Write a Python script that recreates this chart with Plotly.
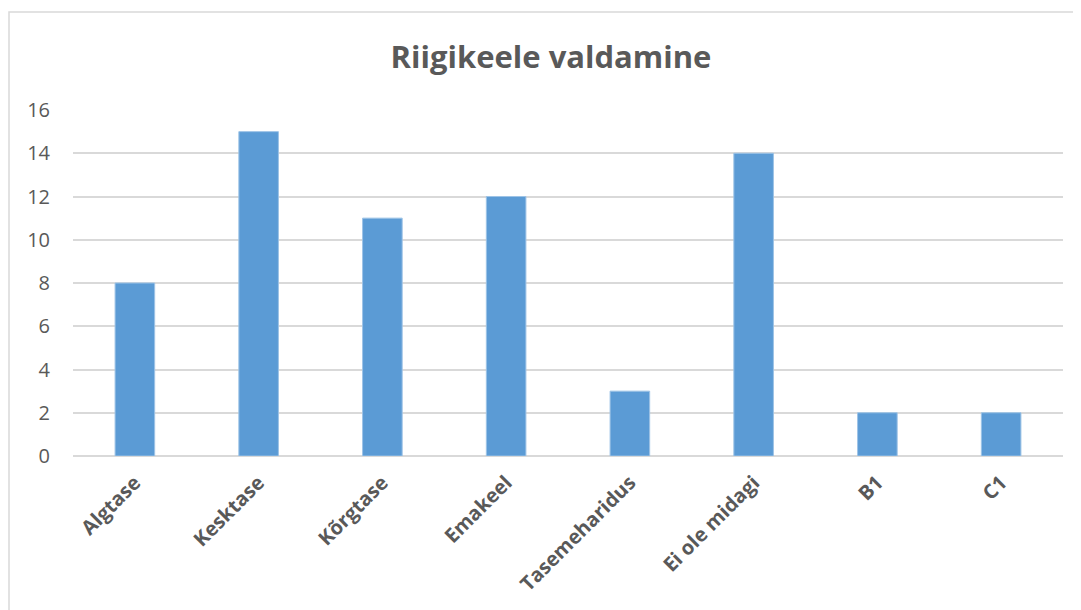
import plotly.graph_objects as go

categories = ["Algtase", "Kesktase", "Kõrgtase", "Emakeel", "Tasemeharidus", "Ei ole midagi", "B1", "C1"]
values = [8, 15, 11, 12, 3, 14, 2, 2]
y_ticks = [0, 2, 4, 6, 8, 10, 12, 14, 16]

fig = go.Figure(go.Bar(
    x=categories, y=values,
    marker=dict(color="#5B9BD5", line=dict(color="#9DC3E6", width=1)),
))

W, H = 1081, 610
OFF = 8  # page body margin offset
ml, mr, mt, mb = 73 - OFF, 18 + OFF, 110 - OFF, 154 + OFF
pw, ph = W - ml - mr, H - mt - mb

def px_x(p):
    return (p - OFF - ml) / pw

def px_y(p):
    return (H - mb - (p - OFF)) / ph

fig.update_layout(
    width=W, height=H,
    margin=dict(l=ml, r=mr, t=mt, b=mb, autoexpand=False),
    paper_bgcolor="white", plot_bgcolor="white",
    bargap=0.68,
    showlegend=False,
    title=dict(text="<b>Riigikeele valdamine</b>", x=px_x(551), xref="paper", xanchor="center",
               y=1 - (57 - OFF) / H, yanchor="middle",
               font=dict(family="Open Sans, sans-serif", size=31, color="#595959")),
    font=dict(family="Open Sans, sans-serif", color="#595959"),
    xaxis=dict(tickangle=-45, tickfont=dict(size=20, color="#595959", family="Open Sans, sans-serif", weight="bold"),
               showgrid=False, showline=False, ticks="", fixedrange=True,
               ticklabelstandoff=10),
    yaxis=dict(range=[0, 16], tickvals=y_ticks, tickfont=dict(size=20, color="#595959"),
               showgrid=True, gridcolor="#D9D9D9", gridwidth=1.5, zeroline=True,
               zerolinecolor="#D9D9D9", zerolinewidth=1.5, showline=False, ticks="",
               ticklabelstandoff=22),
    shapes=[dict(type="rect", xref="paper", yref="paper",
                 x0=px_x(9), x1=px_x(1110), y0=px_y(660), y1=px_y(12),
                 line=dict(color="#D9D9D9", width=1.5), fillcolor="rgba(0,0,0,0)", layer="below")],
)

fig.write_html("out.html")
